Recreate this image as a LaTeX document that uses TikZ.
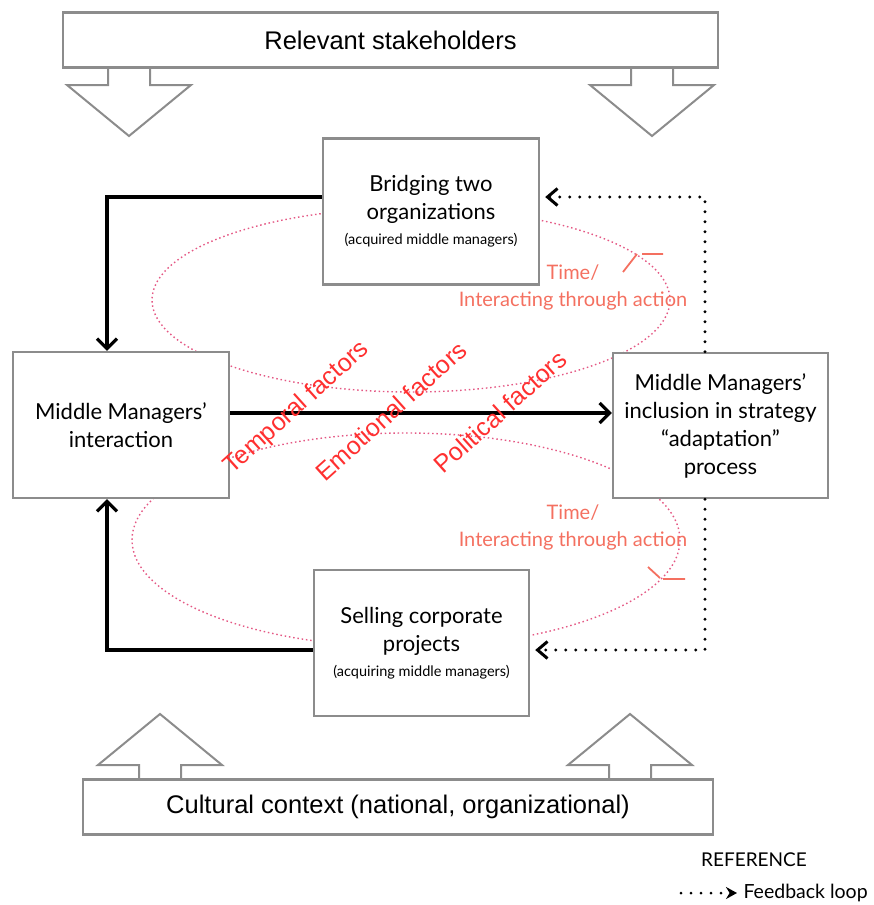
\documentclass[tikz,border=0pt]{standalone}
\usepackage{fontspec}
\setmainfont{Lato}
\newfontfamily\helv{Liberation Sans}
\usetikzlibrary{positioning, arrows.meta}

\definecolor{boxgray}{RGB}{140,140,140}
\definecolor{looppink}{RGB}{228,88,132}
\definecolor{timered}{RGB}{244,112,96}
\definecolor{factorred}{RGB}{255,48,48}

\begin{document}
\begin{tikzpicture}[
  x=1pt, y=-1pt,
  box/.style={draw=boxgray, line width=2.4pt, fill=white, inner sep=0pt,
    minimum width=216pt, minimum height=146pt, align=center,
    font=\fontsize{22}{28}\selectfont},
  band/.style={draw=boxgray, line width=2.2pt, fill=white, inner sep=0pt,
    minimum height=55pt, font=\helv\fontsize{25.5}{28}\selectfont},
  bigarrow/.style={draw=boxgray, line width=2pt, fill=white, line join=miter},
  flow/.style={line width=3.2pt, -{Straight Barb[length=10pt, width=20pt]}},
  feedback/.style={line width=3.2pt, line cap=round, dash pattern=on 0pt off 10pt,
    -{Straight Barb[length=10pt, width=17pt, line width=3pt]}, shorten >=5pt},
  timeloop/.style={draw=looppink, line width=1.4pt, dash pattern=on 1.5pt off 2.8pt},
  factor/.style={text=factorred, font=\helv\fontsize{25}{28}\selectfont, rotate=42},
  timelabel/.style={text=timered, align=center, font=\fontsize{20}{27}\selectfont},
  subtitle/.style={font=\fontsize{14.5}{16}\selectfont}
]
  \useasboundingbox (0,0) rectangle (873,905);

  % --- time loops behind the boxes ---
  \draw[timeloop] (411,300) ellipse [x radius=259, y radius=92];
  \draw[timeloop] (406,540) ellipse [x radius=274, y radius=107];
  \draw[timered, line width=1.8pt] (623,272) -- (637,254) (642,254) -- (663,254);
  \draw[timered, line width=1.8pt] (648,567) -- (660,578) (663,579) -- (685,579);

  % --- block arrows, then the context bands over their open ends ---
  \foreach \cx in {129,652}
    \draw[bigarrow] (\cx-21,68) -- (\cx-21,85) -- (\cx-62,85) -- (\cx,136)
      -- (\cx+62,85) -- (\cx+21,85) -- (\cx+21,68);
  \foreach \cx in {160,630}
    \draw[bigarrow] (\cx-21,780) -- (\cx-21,765) -- (\cx-62,765) -- (\cx,714)
      -- (\cx+62,765) -- (\cx+21,765) -- (\cx+21,780);
  \node[band, minimum width=655pt] (stake) at (390.5,40) {Relevant stakeholders};
  \node[band, minimum width=630pt] (culture) at (398,807) {Cultural context (national, organizational)};

  % --- main boxes ---
  \node[box] (bridge) at (431,211.5) {Bridging two\\organizations\\[-3pt]
    {\fontsize{14.5}{16}\selectfont(acquired middle managers)}};
  \node[box] (inter) at (121,425) {Middle Managers’\\interaction};
  \node[box, minimum width=215pt, minimum height=145pt] (incl) at (720.5,425.5)
    {Middle Managers’\\inclusion in strategy\\“adaptation”\\process};
  \node[box, minimum width=215pt] (sell) at (421.5,643) {Selling corporate\\projects\\[-3pt]
    {\fontsize{14.5}{16}\selectfont(acquiring middle managers)}};

  % --- labels on the loops ---
  \node[timelabel] (timeup) at (573,287) {Time/\\Interacting through action};
  \node[timelabel] (timedown) at (573,527) {Time/\\Interacting through action};

  % --- connectors ---
  \draw[flow] ([yshift=14.5pt]bridge.west) -| ([xshift=-14pt]inter.north);
  \draw[flow] ([yshift=-7pt]sell.west) -| ([xshift=-14pt]inter.south);
  \draw[flow] ([yshift=12pt]inter.east) -- ([yshift=12.5pt]incl.west);
  \draw[feedback] ([xshift=-15.5pt]incl.north) |- ([yshift=14.5pt]bridge.east);
  \draw[feedback] ([xshift=-15.5pt]incl.south) |- ([yshift=-7pt]sell.east);

  % --- factors across the middle ---
  \node[factor] (temporal) at (297,408) {Temporal factors};
  \node[factor] (emotional) at (391,411) {Emotional factors};
  \node[factor] (political) at (500,412) {Political factors};

  % --- legend ---
  \node[font=\fontsize{19}{20}\selectfont] (legend) at (754,860) {REFERENCE};
  \node[anchor=west, font=\fontsize{19.5}{20}\selectfont] (fbtext) at (740,893) {Feedback loop};
  \coordinate (fbstart) at (681,893);
  \draw[line width=3pt, line cap=round, dash pattern=on 0pt off 10pt,
    -{Stealth[length=11pt, width=12pt]}, shorten >=3pt] (fbstart) -- (fbtext.west);
\end{tikzpicture}
\end{document}
